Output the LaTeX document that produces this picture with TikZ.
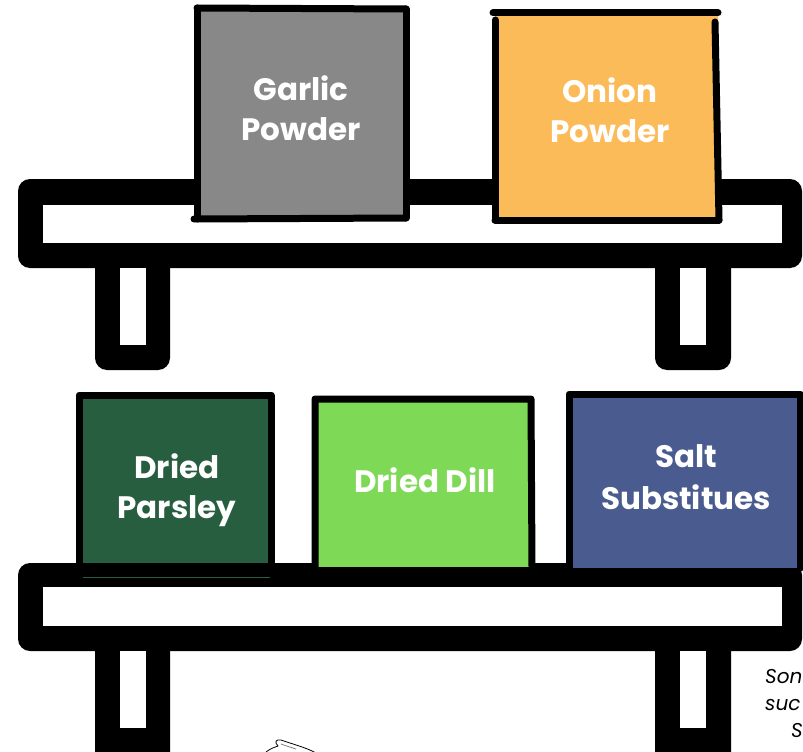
\documentclass[tikz,border=0pt]{standalone}
\usepackage{fontspec}
\setmainfont{Poppins}
\definecolor{garlic}{HTML}{888888}
\definecolor{onion}{HTML}{FCBB59}
\definecolor{parsley}{HTML}{275E3F}
\definecolor{dill}{HTML}{7ED957}
\definecolor{salt}{HTML}{4A5B8F}
\begin{document}
\begin{tikzpicture}[x=1pt,y=-1pt,
  blk/.style={fill=black, rounded corners=12pt},
  hole/.style={fill=white},
  boxline/.style={line width=7pt, line cap=round, line join=round},
  jarlabel/.style={text=white, font=\bfseries\fontsize{31}{40}\selectfont, align=center},
  note/.style={anchor=base west, font=\itshape\fontsize{20}{27}\selectfont, inner sep=0pt},
  sketch/.style={line width=0.8pt, line cap=round}]
\useasboundingbox (0,0) rectangle (803,752);
\clip (0,0) rectangle (803,752);
% ---------- top shelf ----------
\fill[blk] (95,250) rectangle (170,370);
\fill[blk] (655,250) rectangle (731,370);
\fill[blk] (18,179) rectangle (802,268);
\fill[hole] (43,205) rectangle (782,243);
\fill[hole] (120,268) rectangle (146,345);
\fill[hole] (680,268) rectangle (706,345);
% ---------- bottom shelf ----------
\fill[blk] (95,630) rectangle (170,770);
\fill[blk] (655,630) rectangle (731,770);
\fill[blk] (18,563) rectangle (802,651);
\fill[hole] (43,587) rectangle (782,626);
\fill[hole] (120,651) rectangle (146,728);
\fill[hole] (680,651) rectangle (706,728);
% ---------- garlic ----------
\fill[garlic] (197,8) -- (406,9) -- (406,218) -- (197,219) -- cycle;
\draw[boxline] (197,8) -- (406,9);
\draw[boxline] (406,9) -- (406,218);
\draw[boxline] (194,219) -- (406,218);
\draw[boxline] (197,8) -- (197,219);
\node[jarlabel] (garlicl) at (301,108) {Garlic\\Powder};
% ---------- onion ----------
\fill[onion] (495,13) -- (718,13) -- (719,220) -- (495,220) -- cycle;
\draw[boxline] (493,13) -- (718,13);
\draw[boxline] (495,20) -- (495,220);
\draw[boxline] (715,22) -- (719,220);
\draw[boxline] (495,220) -- (719,220);
\node[jarlabel] (onionl) at (610,110) {Onion\\Powder};
% ---------- parsley ----------
\fill[parsley] (79,395) rectangle (271,563);
\draw[boxline] (79,563) -- (79,395) -- (271,395) -- (271,563);
\draw[parsley, line width=1pt] (83,577) -- (270,577);
\node[jarlabel] (parsleyl) at (177,490) {Dried\\Parsley};
% ---------- dill ----------
\fill[dill] (315,399) rectangle (531,567);
\draw[boxline] (315,567) -- (315,399) -- (531,399) -- (532,567);
\node[jarlabel] (dilll) at (425,480) {Dried Dill};
% ---------- salt ----------
\fill[salt] (569,394) rectangle (800,568);
\draw[boxline] (569,568) -- (569,394) -- (800,394) -- (800,568);
\node[jarlabel, align=center] (saltl) at (686,477) {Salt\\[2pt]Substitues};
% ---------- cut-off note ----------
\node[note] (n1) at (765,683) {Son};
\node[note] (n2) at (765,710) {suc};
\node[note] (n3) at (791,737) {S};
% ---------- sketch ----------
\draw[sketch] (265,753) .. controls (268,750) and (272,748) .. (278,746);
\draw[sketch] (278,746) .. controls (274,742) and (276,739) .. (281,740)
  .. controls (292,744) and (305,747) .. (316,753);
\draw[sketch, gray] (281,744) .. controls (286,746) and (290,747) .. (296,749);
\end{tikzpicture}
\end{document}
